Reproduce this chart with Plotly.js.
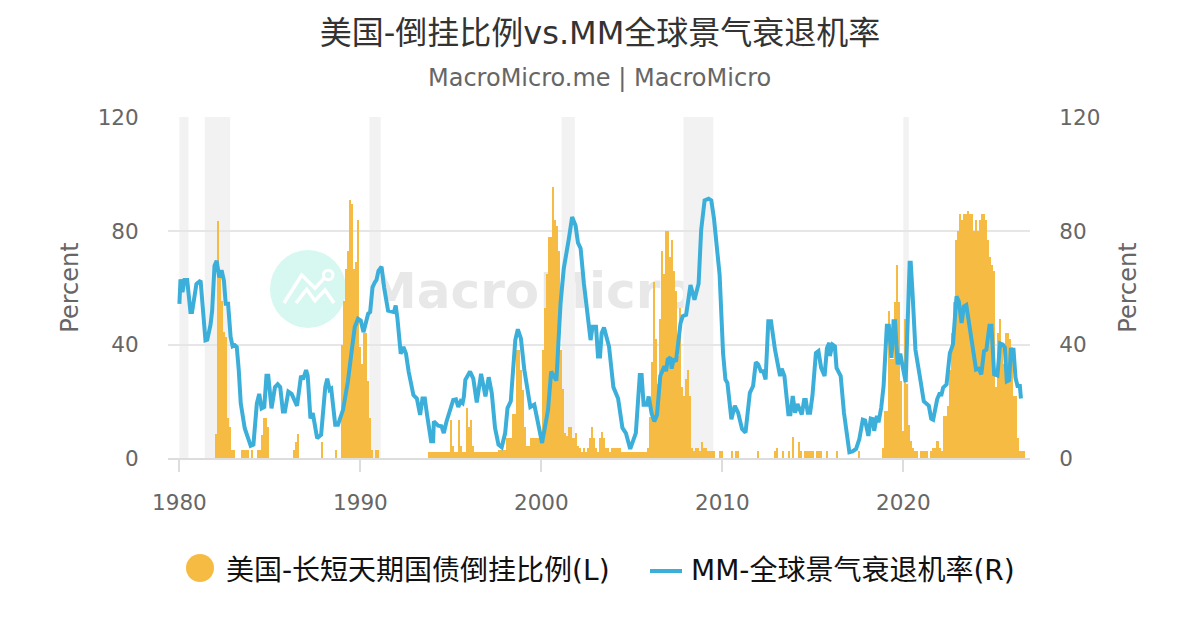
<!DOCTYPE html>
<html><head><meta charset="utf-8">
<script src="https://cdn.plot.ly/plotly-3.0.1.min.js"></script>
<style>
html,body{margin:0;padding:0;background:#fff;width:1200px;height:630px;overflow:hidden}
#wm{position:absolute;left:367px;top:266px;font:bold 50px/50px "DejaVu Sans",sans-serif;color:#e8e8e8;white-space:nowrap}
#chart{position:absolute;left:0;top:0;width:1200px;height:630px}
</style></head><body>
<div id="wm">MacroMicro</div>
<div id="chart"></div>
<script>
const titleText = "美国-倒挂比例vs.MM全球景气衰退机率";
const subtitleText = "MacroMicro.me | MacroMicro";
const barName = "美国-长短天期国债倒挂比例(L)";
const lineName = "MM-全球景气衰退机率(R)";
const yTicks = [0,40,80,120];
const xTicks = [1980,1990,2000,2010,2020];
const recessionStart = [1980.0,1981.4,1990.5,2001.12,2007.85,2020.0];
const recessionEnd   = [1980.5,1982.8,1991.12,2001.85,2009.5,2020.3];

// inverted share: each group = first year, then consecutive readings
const barGroupStart = [1981.94,1983.39,1983.94,1984.28,1986.28,1987.83,1988.61,1988.94,1990.83,1993.72,2009.83,2010.5,2010.72,2011.94,2012.83,2013.28,2013.61,2013.83,2014.17,2014.5,2015.17,2015.72,2016.28,2017.5,2018.83,2020.94,2021.5];
const barGroupValues = [
 [8.3,83.6,65,55.5,44.4,42.7,14,11,2.8,2.8],
 [2.8,2.8,2.8,2.8],
 [2.8],
 [2.8,2.8,8,14,14,11],
 [2.8,5.6,8.3],
 [5.6],
 [2.8],
 [40,55.5,66.7,73,91,89.5,66.7,69,84,39,33,44,44,27,14,2.8],
 [2.8,2.8],
 [2.2,2.2,2.2,2.2,2.2,2.2,2.2,2.2,2.2,2.2,2.2,13.3,4.2,2.2,2.2,13.3,4.2,2.2,2.2,17.5,11,13.3,4.2,
  2.2,2.2,2.2,2.2,2.2,2.2,2.2,2.2,2.2,2.2,2.2,2.2,3,3,3,3,7,7,7,15.5,15.5,38,38,31,24,11,4.2,4.2,
  7,7,7,7,7,7,38,53,65,78,78,95.7,84,82,73,38,24.4,8.8,7.6,11,11,7,8.8,4.2,3.5,2,3.5,2,3.5,7,11,7,3.5,2,
  7,9,7,3.5,3.5,2,3.5,3.5,3.5,3.5,3.5,2.2,2.2,2.2,2.2,2.2,2.2,2.2,2.2,2.2,2.2,2.2,2.2,2.2,3.5,14.5,34,62,42,26,49,73,65,80,80,71,
  77,66,59,36,53,25,22,28,31,22,3.7,2.5,3.7,3.7,2.5,5.8,3.7,3.7,2.5,2.5,2.5,2.5],
 [2.5,2.5],[2.5],[2.5,2.5],[2.5],[2.5,3.7],[2.5],[2.5],[7.3],[5.8,2.5],[2.5,2.5,2.5,2.5,2.5],[2.5,2.5,2.5],[2.5],[2.5],[2.5],
 [3.7,16.6,16.6,51.7,35,35,55,68,55,27,9.6,49,26,11.6,6,3.7,2.3,2.3],
 [2.3,2.3,2.3,2.3],
 [2.3,3.7,3.7,6,3.7,2.3,14.9,14.9,18.4,31,44,55,77,80,86,84,86,86,87,86,86,80,84,80,84,86,86,84,77,71,68,66,25,44,49,40,33,44,44,42,39,22,22,7,2.3,2.3,2.3]
];

// recession probability readings: year, value
const lineReadings = [
1980.0,54.4, 1980.06,63, 1980.17,58.5, 1980.28,62.8, 1980.43,62.8, 1980.61,51.5, 1980.70,51.5, 1980.94,61.4,
1981.17,62.6, 1981.44,41.5, 1981.54,41.7, 1981.72,47, 1981.81,52, 1981.94,67.8, 1982.06,69.6, 1982.20,63.7, 1982.33,66.3, 1982.46,62.6, 1982.56,54.4, 1982.69,54.4, 1982.83,42.7, 1982.94,39.4,
1983.06,39.8, 1983.17,39.2, 1983.28,31, 1983.39,19.3, 1983.61,10.5, 1983.94,4.3, 1984.09,4.7, 1984.28,19.3, 1984.41,22.6, 1984.54,17.5, 1984.69,18, 1984.81,29, 1984.91,29,
1985.09,17.5, 1985.28,25, 1985.43,26, 1985.57,25, 1985.72,16.4, 1985.83,16.4, 1986.02,23.4, 1986.20,22.6, 1986.35,20.5, 1986.50,18.4, 1986.72,29, 1986.83,27.7,
1987.0,31, 1987.09,29, 1987.24,14, 1987.37,15.8, 1987.61,7, 1987.83,8.2, 1988.06,25, 1988.17,28, 1988.30,24, 1988.39,24.4, 1988.61,11.7, 1988.76,11.7,
1989.04,17, 1989.31,27, 1989.50,36.8, 1989.69,46.2, 1989.87,49.1, 1990.02,48.5, 1990.17,44.4, 1990.31,48.5, 1990.43,50.9, 1990.54,51.5, 1990.67,60.2, 1990.80,62, 1990.89,62.8,
1991.0,66, 1991.17,67.5, 1991.31,60.2, 1991.53,52, 1991.86,51.5, 1991.95,53.8, 1992.04,49.7, 1992.23,36.8, 1992.38,39.2, 1992.52,36.8, 1992.67,30.4, 1992.93,22.2, 1993.12,21, 1993.30,15.2,
1993.43,21, 1993.56,21, 1993.69,15, 1993.91,5.9, 1994.02,5.9, 1994.06,12.9, 1994.30,11.4, 1994.48,11.2, 1994.61,8.8, 1994.76,12.9,
1995.13,20.5, 1995.28,20.7, 1995.41,18, 1995.54,20, 1995.65,19.4, 1995.72,21.7, 1995.80,27.6, 1996.06,30.5, 1996.24,28, 1996.43,19.6, 1996.67,29.7, 1996.91,21.7,
1997.09,28.5, 1997.26,22.9, 1997.44,10.6, 1997.63,4.7, 1997.81,3.8, 1998.0,8.8, 1998.13,17.6, 1998.31,20, 1998.56,41.6, 1998.70,45.4, 1998.87,42.2,
1999.06,31, 1999.24,24, 1999.39,18, 1999.61,18.8, 1999.76,13.5, 2000.04,5.3, 2000.37,17, 2000.54,30.5, 2000.83,27.3,
2001.06,54.5, 2001.24,66.9, 2001.39,72, 2001.52,77.4, 2001.70,85, 2001.89,82, 2002.02,76, 2002.17,73.9, 2002.35,61.6, 2002.54,52, 2002.72,41.6, 2002.83,46.3,
2003.02,46.3, 2003.13,35.8, 2003.24,35.8, 2003.33,44, 2003.46,46, 2003.74,39.3, 2003.98,25, 2004.24,21, 2004.48,10.6, 2004.67,8.8, 2004.91,3.2,
2005.22,8.8, 2005.44,29.3, 2005.54,29.3, 2005.65,18.8, 2005.83,18.8, 2005.93,21.7, 2006.09,15.8, 2006.24,12.9, 2006.39,15.2, 2006.57,28.9, 2006.80,32.4, 2006.89,30.6, 2006.98,34.7,
2007.13,35.5, 2007.20,31.5, 2007.31,35, 2007.44,34, 2007.69,47.6, 2007.81,50, 2008.0,50.5, 2008.24,61, 2008.46,55.8, 2008.69,61.6, 2008.83,80.4,
2009.02,90.9, 2009.24,91.5, 2009.39,90.9, 2009.54,84.4, 2009.85,64.6, 2010.04,37, 2010.17,27.7, 2010.28,26.5, 2010.50,13.7, 2010.69,18.4, 2010.87,16,
2011.09,10.2, 2011.28,9, 2011.52,23, 2011.70,25.4, 2011.85,33.8, 2011.98,33, 2012.13,30.6, 2012.26,30.6, 2012.39,27.7, 2012.54,48.2, 2012.69,48.2, 2012.91,38.2,
2013.09,31.2, 2013.19,28.9, 2013.28,31.5, 2013.43,28.9, 2013.65,15.4, 2013.76,15.4, 2013.89,21.9, 2014.02,16, 2014.15,19, 2014.39,15.4, 2014.52,20.5, 2014.61,20.5, 2014.72,16, 2014.85,16, 2014.98,22,
2015.17,37, 2015.31,37.7, 2015.46,31.8, 2015.65,28.9, 2015.78,38.8, 2015.91,40.6, 2015.94,36, 2016.09,40, 2016.22,39.4, 2016.31,31.8, 2016.54,28.9, 2016.72,16,
2017.02,2, 2017.19,2.3, 2017.39,3.2, 2017.57,6.7, 2017.76,13.5, 2017.89,13.2, 2018.07,7.8, 2018.20,13.9, 2018.31,13.7, 2018.39,9.6, 2018.54,14.9, 2018.63,12.6, 2018.78,17.8, 2018.91,25.4,
2019.09,46.7, 2019.20,46.7, 2019.35,35.3, 2019.46,48.2, 2019.54,48.2, 2019.69,33, 2019.83,36.8, 2019.96,32.4, 2020.13,26.8, 2020.35,68.9, 2020.41,68.9, 2020.50,59.3, 2020.67,38.2, 2020.94,27.7,
2021.13,20, 2021.41,18.4, 2021.54,13.9, 2021.65,13.5, 2021.87,20.7, 2022.02,23, 2022.09,21.9, 2022.20,24.8, 2022.39,26, 2022.57,37, 2022.74,40, 2022.94,57,
2023.07,55.2, 2023.22,47.6, 2023.35,53.5, 2023.48,54, 2023.69,45.3, 2023.81,38.2, 2024.02,31.2, 2024.17,31.5, 2024.31,29.5, 2024.46,37.7, 2024.59,38.2, 2024.76,46.7, 2024.87,46.7,
2025.02,29.5, 2025.20,29.1, 2025.35,40.4, 2025.50,40, 2025.61,39, 2025.72,27, 2025.85,27.4, 2025.94,38.2, 2026.09,38.2, 2026.20,28.3, 2026.31,25.4, 2026.44,25.4, 2026.50,21
];
const lineYears = lineReadings.filter((_, i) => i % 2 === 0);
const lineValues = lineReadings.filter((_, i) => i % 2 === 1);

const barX = [], barY = [];
barGroupStart.forEach((s, g) => barGroupValues[g].forEach((v, k) => { barX.push(s + k / 9 + 1 / 18); barY.push(v); }));

const L = 168, T = 117, W = 862, H = 341;
const px = x => (x - L) / W, py = y => 1 - (y - T) / H;
const pt = (x, y) => px(x).toFixed(4) + " " + py(y).toFixed(4);
const shapes = recessionStart.map((s, i) => ({type:"rect",layer:"below",xref:"x",yref:"paper",x0:s,x1:recessionEnd[i],y0:0,y1:1,fillcolor:"#f2f2f2",line:{width:0}}));
// logo
shapes.push({type:"circle",layer:"below",xref:"paper",yref:"paper",x0:px(270),x1:px(346),y0:py(328),y1:py(250),fillcolor:"#d6f8f1",line:{width:0}});
const logoLine = {type:"path",layer:"below",xref:"paper",yref:"paper",line:{color:"#ffffff",width:3.5}};
shapes.push(Object.assign({},logoLine,{path:"M "+pt(284,303)+" L "+pt(301.7,275)+" L "+pt(315,288.3)+" L "+pt(325,277.3)}));
shapes.push(Object.assign({},logoLine,{path:"M "+pt(296,303)+" L "+pt(306.7,289.3)+" L "+pt(315,300.7)+" L "+pt(325,290)+" L "+pt(334,303)}));
shapes.push({type:"circle",layer:"below",xref:"paper",yref:"paper",x0:px(323.5),x1:px(333),y0:py(279.7),y1:py(270.3),fillcolor:"rgba(0,0,0,0)",line:{color:"#ffffff",width:3}});
// legend keys
shapes.push({type:"circle",xref:"paper",yref:"paper",x0:px(186),x1:px(214),y0:py(582),y1:py(554),fillcolor:"#f6bb43",line:{width:0}});
shapes.push({type:"line",xref:"paper",yref:"paper",x0:px(650),x1:px(682),y0:py(571),y1:py(571),line:{color:"#3bafda",width:4}});

const sans = '"DejaVu Sans",sans-serif', cjk = '"DejaVu Sans","Noto Sans CJK SC",sans-serif';
const tickFont = {family:sans,size:21.5,color:"#666666"};
const titleFont = {family:sans,size:24,color:"#666666"};
const legendFont = {family:cjk,size:28,color:"#111111"};
Plotly.newPlot("chart",[
 {type:"bar",name:barName,x:barX,y:barY,width:1/9,marker:{color:"#f6bb43",line:{width:0}},yaxis:"y"},
 {type:"scatter",mode:"lines",name:lineName,x:lineYears,y:lineValues,line:{color:"#3bafda",width:4,shape:"linear"},yaxis:"y2"}
],{
 width:1200,height:630,
 paper_bgcolor:"rgba(0,0,0,0)",plot_bgcolor:"rgba(0,0,0,0)",
 margin:{l:L,r:1200-L-W,t:T,b:630-T-H,pad:0},
 showlegend:false,bargap:0,
 title:{text:titleText,font:{family:cjk,size:32,color:"#333333"},x:0.5,xanchor:"center",y:0.948,yanchor:"middle"},
 xaxis:{range:[1979.37,2027.0],tickmode:"array",tickvals:xTicks,ticktext:xTicks.map(String),ticks:"outside",ticklen:12,tickwidth:2,tickcolor:"#dddddd",ticklabelstandoff:12,showline:true,linecolor:"#dddddd",linewidth:2,showgrid:false,zeroline:false,tickfont:tickFont},
 yaxis:{range:[0,120.3],tickmode:"array",tickvals:yTicks,ticktext:yTicks.map(String),tickfont:tickFont,ticks:"outside",ticklen:24,tickcolor:"rgba(0,0,0,0)",gridcolor:"#e6e6e6",gridwidth:2,zeroline:false,title:{text:"Percent",font:titleFont,standoff:12}},
 yaxis2:{range:[0,120.3],overlaying:"y",side:"right",tickmode:"array",tickvals:yTicks,ticktext:yTicks.map(String),tickfont:tickFont,ticks:"outside",ticklen:24,tickcolor:"rgba(0,0,0,0)",showgrid:false,zeroline:false,title:{text:"Percent",font:titleFont,standoff:19}},
 shapes:shapes,
 annotations:[
  {xref:"paper",yref:"paper",x:0.5,y:py(78),yanchor:"middle",xanchor:"center",text:subtitleText,showarrow:false,font:{family:sans,size:24,color:"#666666"}},
  {xref:"paper",yref:"paper",x:px(224),y:py(570),xanchor:"left",yanchor:"middle",text:barName,showarrow:false,font:legendFont},
  {xref:"paper",yref:"paper",x:px(689),y:py(570),xanchor:"left",yanchor:"middle",text:lineName,showarrow:false,font:legendFont}
 ]
},{staticPlot:true,displayModeBar:false});
</script></body></html>
